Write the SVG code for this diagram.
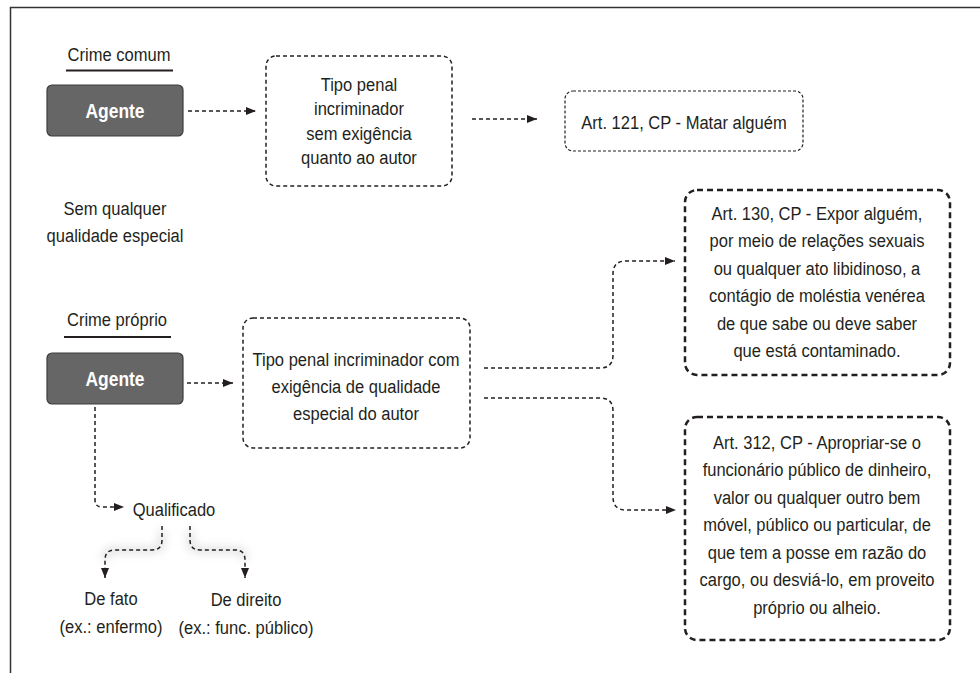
<svg xmlns="http://www.w3.org/2000/svg" width="980" height="673" viewBox="0 0 980 673">
<defs>
<style>
text{font-family:"Liberation Sans",Arial,sans-serif;font-size:19px;fill:#231f20;text-anchor:middle;}
.agent rect{fill:#666666;stroke:#3c3c3c;stroke-width:1.2;}
.agent text{fill:#ffffff;font-weight:bold;font-size:20px;}
.box{fill:#ffffff;stroke:#231f20;stroke-width:1.5;stroke-dasharray:4 3;}
.box-thin{fill:#ffffff;stroke:#231f20;stroke-width:1.2;stroke-dasharray:3 2;}
.box-thick{fill:#ffffff;stroke:#231f20;stroke-width:2.5;stroke-dasharray:6 4;}
.conn path{fill:none;stroke:#231f20;stroke-width:1.5;stroke-dasharray:4 3;}
.glow path{fill:none;stroke:#bdbdbd;stroke-width:6;opacity:0.5;}
.uline{stroke:#231f20;stroke-width:2;}
</style>
<filter id="blur" x="-20%" y="-50%" width="140%" height="200%">
<feGaussianBlur stdDeviation="4"/>
</filter>
<marker id="arr" viewBox="0 0 10 8" refX="10" refY="4" markerWidth="10" markerHeight="8" markerUnits="userSpaceOnUse" orient="auto">
<path d="M0,0 L10,4 L0,8 Z" fill="#231f20"/>
</marker>
</defs>
<rect width="980" height="673" fill="#ffffff"/>
<path d="M10.5,673 V7.5 H980" fill="none" stroke="#333333" stroke-width="1.5"/>

<g id="crime-comum">
<g transform="translate(119 0) scale(0.87 1) translate(-119 0)"><text x="119" y="61">Crime comum</text></g>
<line class="uline" x1="66" y1="70.5" x2="173" y2="70.5"/>
</g>
<g id="agente1" class="agent">
<rect x="47" y="85" width="136" height="51" rx="5"/>
<g transform="translate(115 0) scale(0.87 1) translate(-115 0)"><text x="115" y="118">Agente</text></g>
</g>
<g id="tipo1">
<rect class="box" x="266" y="56" width="186" height="130" rx="10"/>
<g transform="translate(359 0) scale(0.87 1) translate(-359 0)">
<text x="359" y="91">Tipo penal</text>
<text x="359" y="115.5">incriminador</text>
<text x="359" y="140">sem exigência</text>
<text x="359" y="164.5">quanto ao autor</text>
</g>
</g>
<g id="art121">
<rect class="box-thin" x="565" y="91" width="238" height="60" rx="8"/>
<g transform="translate(684 0) scale(0.87 1) translate(-684 0)"><text x="684" y="129">Art. 121, CP - Matar alguém</text></g>
</g>
<g id="sem-qualquer">
<g transform="translate(115 0) scale(0.87 1) translate(-115 0)">
<text x="115" y="215">Sem qualquer</text>
<text x="115" y="242">qualidade especial</text>
</g>
</g>

<g id="crime-proprio">
<g transform="translate(117 0) scale(0.87 1) translate(-117 0)"><text x="117" y="326">Crime próprio</text></g>
<line class="uline" x1="64" y1="337" x2="171" y2="337"/>
</g>
<g id="agente2" class="agent">
<rect x="47" y="353" width="136" height="51" rx="5"/>
<g transform="translate(115 0) scale(0.87 1) translate(-115 0)"><text x="115" y="386">Agente</text></g>
</g>
<g id="tipo2">
<rect class="box" x="243" y="318" width="227" height="130" rx="10"/>
<g transform="translate(356 0) scale(0.87 1) translate(-356 0)">
<text x="356" y="366">Tipo penal incriminador com</text>
<text x="356" y="393">exigência de qualidade</text>
<text x="356" y="420">especial do autor</text>
</g>
</g>
<g id="art130">
<rect class="box-thick" x="685" y="190" width="265" height="185" rx="12"/>
<g transform="translate(817 0) scale(0.87 1) translate(-817 0)">
<text x="817" y="220">Art. 130, CP - Expor alguém,</text>
<text x="817" y="247.5">por meio de relações sexuais</text>
<text x="817" y="275">ou qualquer ato libidinoso, a</text>
<text x="817" y="302.5">contágio de moléstia venérea</text>
<text x="817" y="330">de que sabe ou deve saber</text>
<text x="817" y="357.5">que está contaminado.</text>
</g>
</g>
<g id="art312">
<rect class="box-thick" x="685" y="417" width="265" height="223" rx="12"/>
<g transform="translate(817 0) scale(0.87 1) translate(-817 0)">
<text x="817" y="449">Art. 312, CP - Apropriar-se o</text>
<text x="817" y="476.5">funcionário público de dinheiro,</text>
<text x="817" y="504">valor ou qualquer outro bem</text>
<text x="817" y="531.5">móvel, público ou particular, de</text>
<text x="817" y="559">que tem a posse em razão do</text>
<text x="817" y="586.5">cargo, ou desviá-lo, em proveito</text>
<text x="817" y="614">próprio ou alheio.</text>
</g>
</g>
<g id="qualificado">
<g transform="translate(174 0) scale(0.87 1) translate(-174 0)"><text x="174" y="516">Qualificado</text></g>
</g>
<g id="de-fato">
<g transform="translate(111 0) scale(0.87 1) translate(-111 0)">
<text x="111" y="605">De fato</text>
<text x="111" y="633">(ex.: enfermo)</text>
</g>
</g>
<g id="de-direito">
<g transform="translate(246 0) scale(0.87 1) translate(-246 0)">
<text x="246" y="606">De direito</text>
<text x="246" y="634">(ex.: func. público)</text>
</g>
</g>

<g class="glow" filter="url(#blur)">
<path d="M162,530 V540 Q162,550 152,550 H115 Q105,550 105,560"/>
<path d="M190,530 V540 Q190,550 200,550 H235 Q245,550 245,560"/>
</g>
<g id="connectors" class="conn">
<path d="M188,111 H256" marker-end="url(#arr)"/>
<path d="M472,119 H537" marker-end="url(#arr)"/>
<path d="M187,383 H233" marker-end="url(#arr)"/>
<path d="M484,368 H600 Q613,368 613,355 V274 Q613,261 626,261 H675" marker-end="url(#arr)"/>
<path d="M484,398 H600 Q613,398 613,411 V497 Q613,510 626,510 H676" marker-end="url(#arr)"/>
<path d="M95,407 V500 Q95,507 102,507 H124" marker-end="url(#arr)"/>
<path d="M162,526 V540 Q162,550 152,550 H115 Q105,550 105,560 V578" marker-end="url(#arr)"/>
<path d="M190,526 V540 Q190,550 200,550 H235 Q245,550 245,560 V578" marker-end="url(#arr)"/>
</g>
</svg>
